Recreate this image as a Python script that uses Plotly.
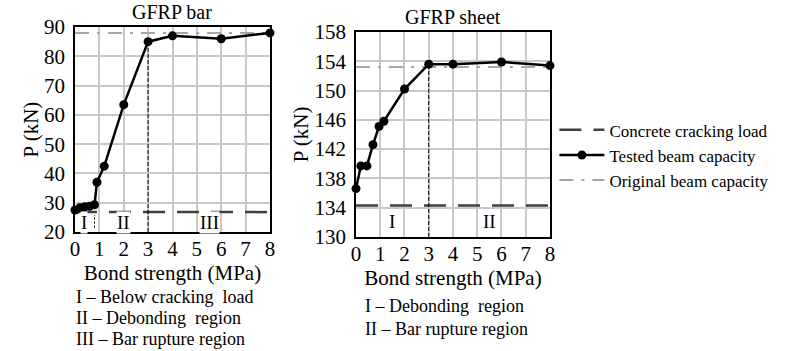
import plotly.graph_objects as go

# ---------------- data ----------------
bar_bond = [0, 0.2, 0.4, 0.6, 0.8, 0.9, 1.2, 2, 3, 4, 6, 8]
bar_load = [27.5, 28.3, 28.6, 28.8, 29.3, 37, 42.5, 63.5, 85, 87, 86, 88]
bar_crack = 26.8
bar_orig = 88

sheet_bond = [0, 0.2, 0.45, 0.7, 0.95, 1.15, 2, 3, 4, 6, 8]
sheet_load = [136.6, 139.7, 139.7, 142.6, 145.1, 145.8, 150.2, 153.6, 153.6, 153.9, 153.4]
sheet_crack = 134.3
sheet_orig = 153.2

bar_regions = ["I", "II", "III"]
bar_region_x = [0.35, 2, 5.5]
sheet_regions = ["I", "II"]
sheet_region_x = [1.5, 5.5]
bar_boundary = 0.8
split_bond = 3

FONT = "Liberation Serif"
fig = go.Figure()

def add_panel(xa, ya, bond, load, crack, orig, split_load, ymin, show):
    fig.add_trace(go.Scatter(x=[0, 8], y=[crack, crack], mode="lines", xaxis=xa, yaxis=ya,
                             line=dict(color="#404040", width=2.5, dash="22px,12px"),
                             name="Concrete cracking load", legendgroup="c", showlegend=show))
    fig.add_trace(go.Scatter(x=[0, 8], y=[orig, orig], mode="lines", xaxis=xa, yaxis=ya,
                             line=dict(color="#A6A6A6", width=2, dash="14px,8px,3px,8px"),
                             name="Original beam capacity", legendgroup="o", showlegend=False))
    fig.add_trace(go.Scatter(x=[split_bond, split_bond], y=[ymin, split_load], mode="lines",
                             xaxis=xa, yaxis=ya, line=dict(color="black", width=1, dash="4px,2px"),
                             showlegend=False, hoverinfo="skip"))
    fig.add_trace(go.Scatter(x=bond, y=load, mode="lines+markers", xaxis=xa, yaxis=ya,
                             line=dict(color="black", width=2.5),
                             marker=dict(color="black", size=9), cliponaxis=False,
                             name="Tested beam capacity", legendgroup="t", showlegend=show))

add_panel("x", "y", bar_bond, bar_load, bar_crack, bar_orig, bar_load[8], 20, True)
add_panel("x2", "y2", sheet_bond, sheet_load, sheet_crack, sheet_orig, sheet_load[7], 130, False)

# boundary between regions I and II (left)
fig.add_trace(go.Scatter(x=[bar_boundary, bar_boundary], y=[21.5, bar_crack - 1], mode="lines",
                         xaxis="x", yaxis="y", line=dict(color="black", width=1, dash="2px,2px"),
                         showlegend=False, hoverinfo="skip"))
# legend-only entry for original capacity, placed last
fig.add_trace(go.Scatter(x=[None], y=[None], mode="lines", xaxis="x", yaxis="y",
                         line=dict(color="#A6A6A6", width=2, dash="14px,8px,3px,8px"),
                         name="Original beam capacity", legendgroup="o", showlegend=True))

axis_common = dict(showline=True, linecolor="black", linewidth=1.5, mirror=True,
                   showgrid=True, gridcolor="#C8C8C8", gridwidth=1.5, zeroline=False,
                   tickfont=dict(family=FONT, size=21, color="black"), ticks="")
title_font = dict(family=FONT, size=21, color="black")

fig.update_layout(
    width=792, height=351, margin=dict(l=0, r=0, t=0, b=0, autoexpand=False),
    paper_bgcolor="white", plot_bgcolor="white",
    font=dict(family=FONT, color="black"),
    xaxis=dict(domain=[0.0947, 0.3409], range=[0, 8], dtick=1, ticklabelstandoff=-3,
               title=dict(text="Bond strength (MPa)", font=title_font, standoff=0),
               **axis_common),
    yaxis=dict(domain=[0.339, 0.923], range=[20, 90], dtick=10, tick0=20, ticklabelstandoff=4,
               title=dict(text="P (kN)", font=title_font, standoff=0), **axis_common),
    xaxis2=dict(domain=[0.4495, 0.6944], range=[0, 8], dtick=1, anchor="y2", ticklabelstandoff=-3,
                title=dict(text="Bond strength (MPa)", font=title_font, standoff=0),
                **axis_common),
    yaxis2=dict(domain=[0.325, 0.909], range=[130, 158], dtick=4, tick0=130, anchor="x2",
                ticklabelstandoff=4,
                title=dict(text="P (kN)", font=title_font, standoff=0), **axis_common),
    legend=dict(x=0.700, y=0.68, xanchor="left", yanchor="top", itemwidth=45,
                font=dict(family=FONT, size=17, color="black"), bgcolor="rgba(0,0,0,0)",
                traceorder="normal", tracegroupgap=0),
    showlegend=True,
)

ann = []
ann.append(dict(text="GFRP bar", xref="x domain", yref="paper", x=0.5, y=1 - 12 / 351,
                showarrow=False, font=dict(family=FONT, size=20), xanchor="center", yanchor="middle"))
ann.append(dict(text="GFRP sheet", xref="x2 domain", yref="paper", x=0.5, y=1 - 17 / 351,
                showarrow=False, font=dict(family=FONT, size=20), xanchor="center", yanchor="middle"))
for t, xv in zip(bar_regions, bar_region_x):
    ann.append(dict(text=t, xref="x", yref="y", x=xv, y=23.3, showarrow=False,
                    font=dict(family=FONT, size=19), bgcolor="white", borderpad=0))
for t, xv in zip(sheet_regions, sheet_region_x):
    ann.append(dict(text=t, xref="x2", yref="y2", x=xv, y=132.1, showarrow=False,
                    font=dict(family=FONT, size=19), bgcolor="white", borderpad=0))
foot_left = ["I – Below cracking  load", "II – Debonding  region", "III – Bar rupture region"]
for i, t in enumerate(foot_left):
    ann.append(dict(text=t, xref="paper", yref="paper", x=74 / 792, y=1 - (297 + 21 * i) / 351,
                    showarrow=False, xanchor="left", yanchor="middle", font=dict(family=FONT, size=18)))
foot_right = ["I – Debonding  region", "II – Bar rupture region"]
for i, t in enumerate(foot_right):
    ann.append(dict(text=t, xref="paper", yref="paper", x=363 / 792, y=1 - (306 + 23 * i) / 351,
                    showarrow=False, xanchor="left", yanchor="middle", font=dict(family=FONT, size=18)))
fig.update_layout(annotations=ann)

fig.write_html("out.html", config={"displayModeBar": False},
               post_script="document.body.style.margin='0';")
